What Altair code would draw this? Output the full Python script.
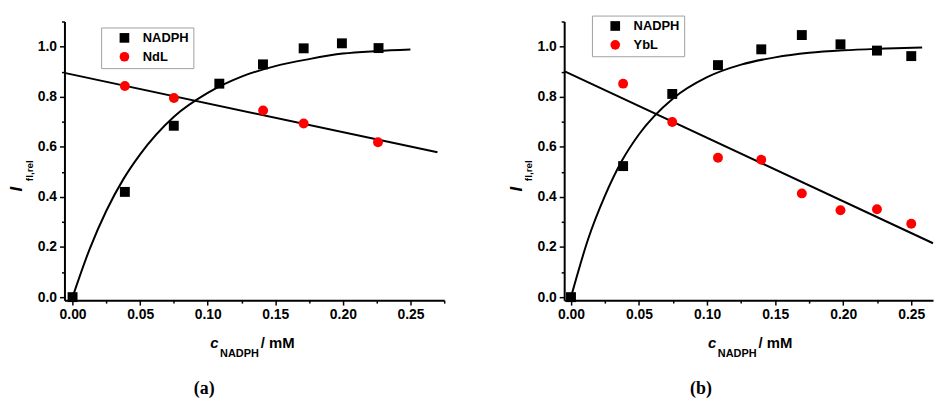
import altair as alt
import pandas as pd

# ---------------- data ----------------
# panel (a)
a_sq_x = [0.0, 0.0387, 0.0749, 0.1086, 0.1409, 0.171, 0.1993, 0.2264]
a_sq_y = [0.0, 0.42, 0.684, 0.852, 0.929, 0.993, 1.013, 0.994]
a_ci_x = [0.0387, 0.075, 0.141, 0.171, 0.226]
a_ci_y = [0.843, 0.795, 0.745, 0.693, 0.618]
a_fit1_x = [0.0, 0.0125, 0.025, 0.0375, 0.05, 0.075, 0.1, 0.125, 0.15, 0.175, 0.2, 0.225, 0.25]
a_fit1_y = [0.0, 0.19, 0.345, 0.47, 0.57, 0.72, 0.815, 0.88, 0.922, 0.95, 0.972, 0.982, 0.988]
a_fit2_x = [-0.006, 0.27]
a_fit2_y = [0.895, 0.578]

# panel (b)
b_sq_x = [0.0, 0.0383, 0.0744, 0.108, 0.1398, 0.1696, 0.198, 0.2248, 0.25]
b_sq_y = [0.0, 0.523, 0.811, 0.926, 0.989, 1.046, 1.009, 0.984, 0.962]
b_ci_x = [0.0383, 0.0744, 0.108, 0.1398, 0.1696, 0.198, 0.2248, 0.25]
b_ci_y = [0.852, 0.699, 0.556, 0.548, 0.414, 0.347, 0.351, 0.293]
b_fit1_x = [0.0, 0.0125, 0.025, 0.0375, 0.05, 0.075, 0.1, 0.125, 0.15, 0.175, 0.2, 0.225, 0.258]
b_fit1_y = [0.0, 0.23, 0.405, 0.545, 0.65, 0.793, 0.878, 0.928, 0.957, 0.975, 0.985, 0.991, 0.996]
b_fit2_x = [-0.005, 0.266]
b_fit2_y = [0.902, 0.215]

x_ticks = [0.0, 0.025, 0.05, 0.075, 0.1, 0.125, 0.15, 0.175, 0.2, 0.225, 0.25, 0.275]
y_ticks = [0.0, 0.1, 0.2, 0.3, 0.4, 0.5, 0.6, 0.7, 0.8, 0.9, 1.0, 1.1]

SANS = "Liberation Sans"
SERIF = "Liberation Serif"

X_MAJOR = "abs(datum.value*20 - round(datum.value*20)) < 1e-6"
Y_MAJOR = "abs(datum.value*5 - round(datum.value*5)) < 1e-6"


def make_axis(kind, ticks):
    major = X_MAJOR if kind == "x" else Y_MAJOR
    fmt = ".2f" if kind == "x" else ".1f"
    return alt.Axis(
        values=ticks,
        title=None,
        grid=False,
        domainColor="black",
        domainWidth=2,
        tickColor="black",
        tickWidth=1.5,
        tickSize={"condition": {"test": major, "value": 5}, "value": 3},
        labelExpr=f"{major} ? format(datum.value, '{fmt}') : ''",
        labelFont=SANS,
        labelFontSize=14,
        labelFontWeight="bold",
        labelColor="black",
        labelPadding=3,
        labelFlush=False,
        labelOverlap=False,
    )


def text_layer(txt, x, y, size, weight="bold", style="normal", font=SANS,
               angle=0, align="left", baseline="alphabetic"):
    return alt.Chart(alt.Data(values=[{"t": txt}])).mark_text(
        font=font, fontSize=size, fontWeight=weight, fontStyle=style,
        angle=angle, align=align, baseline=baseline, color="black",
    ).encode(text="t:N", x=alt.value(x), y=alt.value(y))


def panel(sq_x, sq_y, ci_x, ci_y, f1x, f1y, f2x, f2y, name2, xdom, width,
          leg_x, leg_y, title_x, sub_label, sub_x):
    height = 281
    xs = alt.Scale(domain=xdom, nice=False, zero=False)
    ys = alt.Scale(domain=[-0.012, 1.1], nice=False, zero=False)
    xt = [v for v in x_ticks if xdom[0] <= v <= xdom[1]]
    xa = make_axis("x", xt)
    ya = make_axis("y", y_ticks)

    pts = pd.DataFrame({
        "x": sq_x + ci_x,
        "y": sq_y + ci_y,
        "series": ["NADPH"] * len(sq_x) + [name2] * len(ci_x),
    })
    fits = pd.DataFrame({
        "x": f1x + f2x,
        "y": f1y + f2y,
        "series": ["NADPH"] * len(f1x) + [name2] * len(f2x),
    })

    dom = ["NADPH", name2]
    leg = alt.Legend(
        orient="none", legendX=leg_x, legendY=leg_y, title=None,
        padding=4, symbolOffset=13, labelOffset=12, rowPadding=5,
        labelFont=SANS, labelFontSize=13, labelFontWeight="bold",
        labelColor="black", strokeColor="#a0a0a0", fillColor="white",
        symbolSize=95, symbolStrokeWidth=0,
    )

    lines = alt.Chart(fits).mark_line(
        color="black", strokeWidth=2, interpolate="monotone"
    ).encode(
        x=alt.X("x:Q", scale=xs, axis=xa),
        y=alt.Y("y:Q", scale=ys, axis=ya),
        detail="series:N",
    )

    points = alt.Chart(pts).mark_point(filled=True, size=100, opacity=1).encode(
        x=alt.X("x:Q", scale=xs, axis=xa),
        y=alt.Y("y:Q", scale=ys, axis=ya),
        color=alt.Color("series:N", scale=alt.Scale(domain=dom, range=["black", "red"]), legend=leg),
        shape=alt.Shape("series:N", scale=alt.Scale(domain=dom, range=["square", "circle"]), legend=leg),
    )

    texts = [
        text_layer("c", title_x, 329, 15, style="italic"),
        text_layer("NADPH", title_x + 10, 338, 11),
        text_layer("/ mM", title_x + 51, 329, 15),
        text_layer("I", -43, 169, 17, style="italic", angle=270, align="center"),
        text_layer("fl,rel", -32, 161, 10, angle=270, align="left"),
        text_layer(sub_label, sub_x, 376, 18, weight="bold", font=SERIF, align="center"),
    ]

    return alt.layer(lines, points, *texts).properties(width=width, height=height)


pa = panel(a_sq_x, a_sq_y, a_ci_x, a_ci_y, a_fit1_x, a_fit1_y, a_fit2_x, a_fit2_y,
           "NdL", [-0.006, 0.275], 383, 37, 6, 147, "(a)", 141)
pb = panel(b_sq_x, b_sq_y, b_ci_x, b_ci_y, b_fit1_x, b_fit1_y, b_fit2_x, b_fit2_y,
           "YbL", [-0.005, 0.266], 372, 28, -6, 145, "(b)", 138)

chart = alt.hconcat(pa, pb, spacing=121, bounds="flush").resolve_scale(
    x="independent", y="independent", color="independent", shape="independent"
).resolve_legend(color="independent", shape="independent").configure(
    padding={"left": 8, "top": 13, "right": 0, "bottom": 0},
    background="white",
).configure_view(stroke=None)

chart.save("out.html", embed_options={"renderer": "svg", "actions": False})
